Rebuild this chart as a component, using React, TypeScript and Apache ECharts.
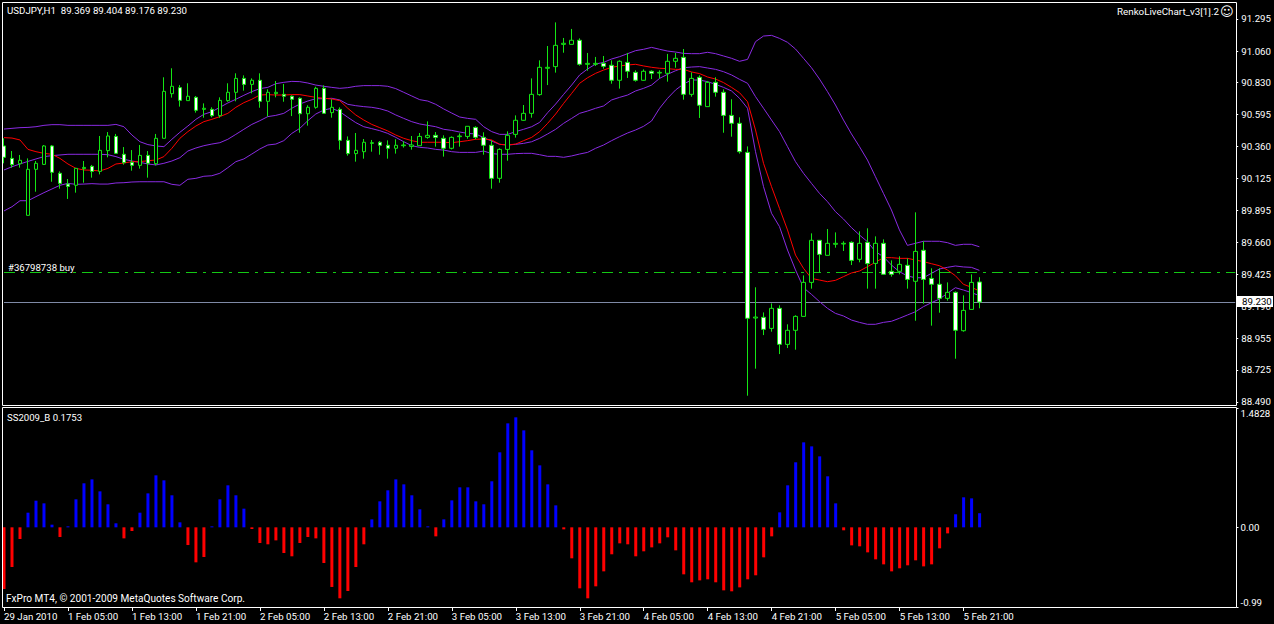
import React, { useEffect, useRef } from "react";
import * as echarts from "echarts";

const opens = [
  90.365, 90.274, 90.235, 89.857, 90.194, 90.230, 90.365, 90.165, 90.086, 90.077,
  90.199, 90.216, 90.179, 90.331, 90.435, 90.304, 90.245, 90.223, 90.296, 90.235,
  90.421, 90.748, 90.792, 90.697, 90.721, 90.633, 90.633, 90.587, 90.697, 90.758,
  90.860, 90.816, 90.846, 90.692, 90.748, 90.743, 90.729, 90.714, 90.601, 90.648,
  90.787, 90.609, 90.633, 90.406, 90.309, 90.323, 90.384, 90.392, 90.370, 90.348,
  90.367, 90.362, 90.367, 90.428, 90.443, 90.421, 90.348, 90.433, 90.435, 90.501,
  90.428, 90.370, 90.128, 90.340, 90.450, 90.553, 90.604, 90.741, 90.934, 90.946,
  91.109, 91.109, 91.139, 90.963, 90.963, 90.970, 90.956, 90.846, 90.977, 90.904,
  90.846, 90.912, 90.899, 90.897, 90.985, 91.014, 90.743, 90.868, 90.653, 90.831,
  90.758, 90.589, 90.531, 90.318, 89.105, 89.110, 89.029, 89.176, 88.912, 89.015,
  89.117, 89.366, 89.674, 89.564, 89.645, 89.647, 89.659, 89.535, 89.659, 89.505,
  89.652, 89.447, 89.447, 89.491, 89.374, 89.601, 89.395, 89.352, 89.249, 89.293,
  89.012, 89.168, 89.369,
];
const closes = [
  90.282, 90.228, 90.260, 90.194, 90.238, 90.365, 90.172, 90.091, 90.069, 90.201,
  90.208, 90.179, 90.333, 90.438, 90.311, 90.243, 90.223, 90.296, 90.238, 90.421,
  90.765, 90.802, 90.699, 90.729, 90.626, 90.641, 90.587, 90.699, 90.758, 90.860,
  90.816, 90.846, 90.692, 90.758, 90.758, 90.729, 90.707, 90.601, 90.648, 90.787,
  90.604, 90.648, 90.406, 90.309, 90.333, 90.392, 90.389, 90.370, 90.348, 90.370,
  90.372, 90.372, 90.435, 90.443, 90.428, 90.348, 90.428, 90.438, 90.509, 90.428,
  90.370, 90.128, 90.340, 90.443, 90.553, 90.604, 90.743, 90.941, 90.941, 91.102,
  91.117, 91.139, 90.963, 90.970, 90.970, 90.948, 90.846, 90.985, 90.912, 90.846,
  90.912, 90.897, 90.904, 90.985, 91.007, 90.743, 90.860, 90.663, 90.831, 90.758,
  90.589, 90.531, 90.323, 89.103, 89.112, 89.022, 89.176, 88.912, 89.015, 89.117,
  89.366, 89.674, 89.571, 89.652, 89.652, 89.652, 89.527, 89.652, 89.503, 89.652,
  89.425, 89.425, 89.498, 89.388, 89.593, 89.388, 89.352, 89.249, 89.293, 89.015,
  89.161, 89.366, 89.222,
];
const lows = [
  90.238, 90.206, 90.206, 89.857, 90.030, 90.226, 90.103, 90.052, 89.977, 90.023,
  90.096, 90.133, 90.157, 90.282, 90.306, 90.228, 90.184, 90.199, 90.133, 90.223,
  90.421, 90.719, 90.653, 90.697, 90.609, 90.572, 90.575, 90.572, 90.689, 90.692,
  90.770, 90.750, 90.645, 90.580, 90.721, 90.689, 90.584, 90.462, 90.514, 90.638,
  90.604, 90.572, 90.338, 90.294, 90.250, 90.272, 90.323, 90.301, 90.272, 90.309,
  90.353, 90.338, 90.367, 90.418, 90.360, 90.287, 90.340, 90.360, 90.418, 90.414,
  90.301, 90.052, 90.096, 90.257, 90.426, 90.550, 90.572, 90.733, 90.811, 90.902,
  91.048, 91.109, 90.953, 90.916, 90.951, 90.931, 90.821, 90.785, 90.863, 90.836,
  90.843, 90.855, 90.860, 90.836, 90.938, 90.704, 90.726, 90.570, 90.653, 90.726,
  90.462, 90.433, 90.309, 88.536, 88.734, 88.980, 89.005, 88.841, 88.885, 88.873,
  89.117, 89.320, 89.439, 89.564, 89.620, 89.596, 89.493, 89.513, 89.320, 89.320,
  89.425, 89.408, 89.425, 89.320, 89.085, 89.210, 89.049, 89.144, 89.232, 88.807,
  89.005, 89.168, 89.176,
];
const highs = [
  90.421, 90.328, 90.299, 90.274, 90.255, 90.372, 90.372, 90.179, 90.123, 90.201,
  90.255, 90.226, 90.438, 90.467, 90.453, 90.357, 90.335, 90.372, 90.328, 90.453,
  90.868, 90.934, 90.811, 90.824, 90.731, 90.677, 90.648, 90.721, 90.824, 90.897,
  90.882, 90.860, 90.897, 90.780, 90.841, 90.819, 90.736, 90.721, 90.663, 90.799,
  90.809, 90.707, 90.648, 90.435, 90.460, 90.416, 90.409, 90.401, 90.406, 90.414,
  90.399, 90.438, 90.460, 90.545, 90.467, 90.443, 90.435, 90.457, 90.509, 90.509,
  90.465, 90.406, 90.348, 90.472, 90.589, 90.665, 90.860, 90.992, 91.097, 91.270,
  91.156, 91.222, 91.153, 91.046, 91.017, 91.024, 90.992, 90.992, 91.046, 90.919,
  90.926, 90.919, 90.919, 91.039, 91.046, 91.075, 90.904, 90.882, 90.841, 90.868,
  90.780, 90.707, 90.575, 90.362, 89.330, 89.146, 89.212, 89.198, 89.059, 89.125,
  89.417, 89.725, 89.674, 89.757, 89.732, 89.667, 89.667, 89.740, 89.762, 89.703,
  89.681, 89.527, 89.557, 89.542, 89.879, 89.667, 89.469, 89.469, 89.366, 89.300,
  89.271, 89.425, 89.404,
];
const bandUpper = [
  90.489, 90.494, 90.499, 90.501, 90.506, 90.516, 90.521, 90.521, 90.516, 90.516,
  90.516, 90.516, 90.516, 90.516, 90.523, 90.506, 90.445, 90.396, 90.375, 90.365,
  90.360, 90.414, 90.465, 90.511, 90.560, 90.597, 90.616, 90.648, 90.680, 90.707,
  90.736, 90.763, 90.785, 90.794, 90.821, 90.831, 90.838, 90.836, 90.826, 90.811,
  90.802, 90.794, 90.787, 90.792, 90.802, 90.807, 90.807, 90.807, 90.802, 90.785,
  90.758, 90.731, 90.704, 90.694, 90.670, 90.636, 90.606, 90.577, 90.567, 90.560,
  90.506, 90.470, 90.450, 90.450, 90.470, 90.487, 90.506, 90.538, 90.609, 90.672,
  90.743, 90.811, 90.885, 90.929, 90.965, 90.977, 91.002, 91.019, 91.041, 91.063,
  91.073, 91.087, 91.073, 91.060, 91.053, 91.043, 91.041, 91.041, 91.051, 91.041,
  91.024, 91.007, 90.985, 90.999, 91.129, 91.170, 91.175, 91.153, 91.124, 91.075,
  91.007, 90.938, 90.855, 90.763, 90.665, 90.555, 90.453, 90.360, 90.262, 90.140,
  90.018, 89.896, 89.750, 89.637, 89.652, 89.667, 89.667, 89.667, 89.657, 89.637,
  89.645, 89.645, 89.627,
];
const bandMiddle = [
  90.189, 90.213, 90.233, 90.252, 90.270, 90.287, 90.294, 90.299, 90.304, 90.304,
  90.304, 90.304, 90.304, 90.301, 90.287, 90.267, 90.255, 90.245, 90.233, 90.226,
  90.238, 90.255, 90.279, 90.328, 90.350, 90.367, 90.379, 90.389, 90.414, 90.450,
  90.487, 90.523, 90.550, 90.580, 90.589, 90.604, 90.641, 90.672, 90.694, 90.711,
  90.711, 90.714, 90.702, 90.670, 90.660, 90.653, 90.648, 90.638, 90.621, 90.592,
  90.567, 90.543, 90.526, 90.516, 90.506, 90.487, 90.479, 90.467, 90.457, 90.453,
  90.426, 90.401, 90.377, 90.372, 90.377, 90.384, 90.396, 90.421, 90.453, 90.487,
  90.531, 90.567, 90.604, 90.621, 90.641, 90.658, 90.702, 90.721, 90.738, 90.768,
  90.787, 90.811, 90.860, 90.890, 90.916, 90.938, 90.943, 90.946, 90.936, 90.926,
  90.909, 90.885, 90.853, 90.824, 90.726, 90.641, 90.555, 90.470, 90.360, 90.250,
  90.165, 90.091, 90.018, 89.957, 89.884, 89.830, 89.767, 89.713, 89.664, 89.591,
  89.554, 89.493, 89.444, 89.413, 89.400, 89.400, 89.432, 89.464, 89.476, 89.486,
  89.479, 89.476, 89.454,
];
const bandLower = [
  89.889, 89.920, 89.964, 89.964, 89.994, 90.023, 90.050, 90.077, 90.091, 90.084,
  90.086, 90.089, 90.086, 90.086, 90.094, 90.096, 90.101, 90.103, 90.103, 90.103,
  90.103, 90.084, 90.077, 90.121, 90.128, 90.143, 90.147, 90.165, 90.206, 90.250,
  90.270, 90.306, 90.343, 90.372, 90.379, 90.404, 90.457, 90.494, 90.550, 90.599,
  90.628, 90.641, 90.616, 90.575, 90.536, 90.506, 90.492, 90.477, 90.457, 90.428,
  90.396, 90.367, 90.355, 90.350, 90.340, 90.335, 90.323, 90.318, 90.318, 90.318,
  90.328, 90.309, 90.304, 90.304, 90.309, 90.311, 90.311, 90.301, 90.289, 90.289,
  90.282, 90.292, 90.306, 90.318, 90.348, 90.372, 90.404, 90.433, 90.460, 90.482,
  90.509, 90.548, 90.641, 90.714, 90.775, 90.819, 90.848, 90.848, 90.836, 90.816,
  90.794, 90.768, 90.714, 90.641, 90.323, 90.067, 89.872, 89.774, 89.603, 89.457,
  89.327, 89.278, 89.225, 89.176, 89.139, 89.120, 89.090, 89.073, 89.059, 89.059,
  89.073, 89.081, 89.103, 89.127, 89.151, 89.188, 89.217, 89.244, 89.286, 89.327,
  89.310, 89.291, 89.269,
];
const redAverage = [
  90.426, 90.423, 90.409, 90.340, 90.323, 90.311, 90.304, 90.274, 90.233, 90.201,
  90.189, 90.187, 90.182, 90.201, 90.233, 90.240, 90.250, 90.250, 90.257, 90.262,
  90.287, 90.348, 90.421, 90.470, 90.511, 90.543, 90.560, 90.580, 90.604, 90.648,
  90.682, 90.707, 90.738, 90.741, 90.738, 90.738, 90.741, 90.741, 90.731, 90.721,
  90.714, 90.709, 90.697, 90.641, 90.592, 90.555, 90.523, 90.499, 90.475, 90.445,
  90.421, 90.404, 90.392, 90.392, 90.392, 90.392, 90.389, 90.396, 90.404, 90.414,
  90.416, 90.409, 90.377, 90.372, 90.379, 90.404, 90.428, 90.470, 90.531, 90.599,
  90.677, 90.750, 90.824, 90.865, 90.897, 90.921, 90.941, 90.951, 90.958, 90.963,
  90.951, 90.941, 90.934, 90.931, 90.926, 90.926, 90.907, 90.895, 90.870, 90.855,
  90.829, 90.794, 90.755, 90.689, 90.482, 90.238, 90.067, 89.908, 89.750, 89.566,
  89.469, 89.395, 89.383, 89.371, 89.381, 89.408, 89.435, 89.449, 89.481, 89.513,
  89.547, 89.547, 89.542, 89.542, 89.530, 89.518, 89.503, 89.488, 89.457, 89.415,
  89.352, 89.330, 89.303,
];
const oscillator = [
  -0.766, -0.493, -0.145, 0.182, 0.331, 0.298, 0.033, -0.120, 0.012, 0.348,
  0.547, 0.596, 0.447, 0.286, 0.050, -0.137, -0.046, 0.182, 0.422, 0.646,
  0.584, 0.398, 0.062, -0.220, -0.435, -0.369, 0.012, 0.348, 0.522, 0.398,
  0.232, -0.021, -0.195, -0.211, -0.162, -0.319, -0.360, -0.195, -0.120, -0.137,
  -0.443, -0.741, -0.882, -0.791, -0.493, -0.211, 0.099, 0.323, 0.460, 0.596,
  0.534, 0.398, 0.224, 0.012, -0.112, 0.099, 0.335, 0.497, 0.497, 0.323,
  0.286, 0.572, 0.932, 1.292, 1.367, 1.205, 0.957, 0.770, 0.534, 0.273,
  -0.025, -0.385, -0.758, -0.882, -0.733, -0.547, -0.335, -0.199, -0.211, -0.360,
  -0.298, -0.249, -0.199, -0.124, -0.286, -0.584, -0.683, -0.659, -0.646, -0.683,
  -0.783, -0.795, -0.746, -0.646, -0.596, -0.373, -0.112, 0.186, 0.522, 0.808,
  1.056, 1.006, 0.882, 0.634, 0.298, -0.037, -0.224, -0.236, -0.311, -0.398,
  -0.460, -0.547, -0.509, -0.472, -0.410, -0.485, -0.460, -0.261, -0.075, 0.162,
  0.373, 0.360, 0.1753,
];
const timeLabels = [
  "29 Jan 2010", "1 Feb 05:00", "1 Feb 13:00", "1 Feb 21:00", "2 Feb 05:00", "2 Feb 13:00",
  "2 Feb 21:00", "3 Feb 05:00", "3 Feb 13:00", "3 Feb 21:00", "4 Feb 05:00", "4 Feb 13:00",
  "4 Feb 21:00", "5 Feb 05:00", "5 Feb 13:00", "5 Feb 21:00",
];
const priceTicks = [88.49, 88.725, 88.955, 89.19, 89.425, 89.66, 89.895, 90.125, 90.36, 90.595, 90.83, 91.06, 91.295];
const oscTicks = [-0.99, 0, 1.4828];
const oscTickText = ["-0.99", "0.00", "1.4828"];
const lastPriceLevel = 89.22;
const orderPrice = 89.44;

const FONT = "Roboto";
const TICK_STEP = 8;
const SLOTS = 155; // the chart keeps free bars to the right of the last candle
const categories = Array.from({ length: SLOTS }, (_, i) =>
  i % TICK_STEP === 0 && timeLabels[i / TICK_STEP] ? timeLabels[i / TICK_STEP] : `bar ${i}`
);
const isTick = (i: number) => i % TICK_STEP === 0 && !!timeLabels[i / TICK_STEP];

const txt = (x: number, y: number, text: string, size = 9.7, extra: any = {}) => ({
  type: "text",
  x,
  y,
  z: 60,
  silent: true,
  style: { text, fill: "#ffffff", font: `${size}px ${FONT}`, textVerticalAlign: "middle", ...extra },
});

const lineSeries = (name: string, data: number[], color: string) => ({
  name,
  type: "line",
  xAxisIndex: 0,
  yAxisIndex: 0,
  data,
  showSymbol: false,
  z: 2,
  lineStyle: { color, width: 1 },
});

export default function App() {
  const ref = useRef<HTMLDivElement>(null);
  useEffect(() => {
    document.body.style.margin = "0";
    document.body.style.background = "#000";
    const chart = echarts.init(ref.current!, undefined, { renderer: "svg" });
    chart.setOption({
      animation: false,
      backgroundColor: "#000000",
      grid: [
        { left: -0.5, top: 3, width: 1240, height: 402 },
        { left: -0.5, top: 408, width: 1240, height: 199 },
      ],
      xAxis: [
        {
          type: "category",
          gridIndex: 0,
          data: categories,
          axisLine: { show: false },
          axisTick: { show: false },
          axisLabel: { show: false },
          splitLine: { show: false },
        },
        {
          type: "category",
          gridIndex: 1,
          data: categories,
          axisLine: { show: false, onZero: false },
          axisTick: {
            show: true,
            alignWithLabel: true,
            length: 4,
            interval: (i: number) => isTick(i),
            lineStyle: { color: "#fff" },
          },
          axisLabel: {
            color: "#fff",
            fontFamily: FONT,
            fontSize: 9.7,
            align: "left",
            margin: 4,
            interval: (i: number) => isTick(i),
          },
          splitLine: { show: false },
        },
      ],
      yAxis: [
        {
          type: "value",
          gridIndex: 0,
          position: "right",
          offset: -3,
          min: 88.468,
          max: 91.412,
          axisLine: { show: false },
          axisTick: { show: true, length: 2, lineStyle: { color: "#fff" }, customValues: priceTicks },
          axisLabel: {
            color: "#fff",
            fontFamily: FONT,
            fontSize: 9.7,
            margin: 5,
            customValues: priceTicks,
            formatter: (v: number) => v.toFixed(3),
          },
          splitLine: { show: false },
        },
        {
          type: "value",
          gridIndex: 1,
          position: "right",
          offset: -3,
          min: -0.99,
          max: 1.4828,
          axisLine: { show: false },
          axisTick: { show: true, length: 2, lineStyle: { color: "#fff" }, customValues: oscTicks },
          axisLabel: {
            color: "#fff",
            fontFamily: FONT,
            fontSize: 9.7,
            margin: 4,
            customValues: oscTicks,
            verticalAlignMinLabel: "bottom",
            verticalAlignMaxLabel: "top",
            formatter: (v: number) => oscTickText[oscTicks.indexOf(v)] ?? "",
          },
          splitLine: { show: false },
        },
      ],
      series: [
        lineSeries("Upper", bandUpper, "#8a2be2"),
        lineSeries("Middle", bandMiddle, "#8a2be2"),
        lineSeries("Lower", bandLower, "#8a2be2"),
        lineSeries("Average", redAverage, "#ff0000"),
        {
          name: "USDJPY,H1",
          type: "candlestick",
          xAxisIndex: 0,
          yAxisIndex: 0,
          z: 4,
          barWidth: 4,
          data: opens.map((o, i) => [o, closes[i], lows[i], highs[i]]),
          itemStyle: {
            color: "#000000",
            color0: "#ffffff",
            borderColor: "#14e614",
            borderColor0: "#14e614",
            borderWidth: 1,
          },
          markLine: {
            silent: true,
            symbol: "none",
            label: { show: false },
            z: 1,
            data: [
              [
                { coord: [categories[0], lastPriceLevel], lineStyle: { color: "#7f8aa6", width: 1, type: "solid" } },
                { coord: [categories[SLOTS - 1], lastPriceLevel] },
              ],
              [
                { coord: [categories[0], orderPrice], lineStyle: { color: "#14c814", width: 1, type: [11, 6, 3, 6] } },
                { coord: [categories[SLOTS - 1], orderPrice] },
              ],
            ],
          },
        },
        {
          name: "SS2009_B",
          type: "bar",
          xAxisIndex: 1,
          yAxisIndex: 1,
          barWidth: 3,
          data: oscillator.map((v) => ({
            value: v,
            itemStyle: { color: v >= 0 ? "#0000ff" : "#ff0000" },
          })),
        },
      ],
      graphic: [
        { type: "rect", z: 49, silent: true, shape: { x: 0, y: 0, width: 2, height: 624 }, style: { fill: "#000" } },
        {
          type: "rect",
          z: 50,
          silent: true,
          shape: { x: 2.5, y: 2.5, width: 1234, height: 403 },
          style: { fill: "none", stroke: "#fff", lineWidth: 1 },
        },
        {
          type: "rect",
          z: 50,
          silent: true,
          shape: { x: 2.5, y: 407.5, width: 1234, height: 200 },
          style: { fill: "none", stroke: "#fff", lineWidth: 1 },
        },
        txt(7, 10, "USDJPY,H1  89.369 89.404 89.176 89.230", 9.7),
        txt(1117, 11, "RenkoLiveChart_v3[1].2", 9.8),
        txt(1220, 11, "\u263A", 13, { font: "13px DejaVu Sans" }),
        txt(8, 267, "#36798738 buy", 9.6),
        txt(7, 417, "SS2009_B 0.1753", 9.6),
        txt(6, 598, "FxPro MT4, \u00A9 2001-2009 MetaQuotes Software Corp.", 10.1),
        {
          type: "rect",
          z: 59,
          silent: true,
          shape: { x: 1237, y: 296, width: 36, height: 11 },
          style: { fill: "#fff" },
        },
        txt(1242, 301.5, "89.230", 9.7, { fill: "#000" }),
      ],
    });
    return () => chart.dispose();
  }, []);
  return <div ref={ref} style={{ width: 1274, height: 624 }} />;
}
